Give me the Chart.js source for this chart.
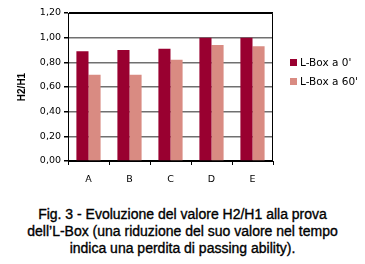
<!DOCTYPE html>
<html>
<head>
<meta charset="utf-8">
<script src="https://cdn.jsdelivr.net/npm/chart.js@4"></script>
<style>
  body { margin: 0; background: #fff; }
  #wrap { width: 365px; height: 264px; position: relative; }
  #holder { width: 365px; height: 200px; position: relative; }
  #caption {
    font-family: "Liberation Sans", Arial, sans-serif;
    font-size: 14px; line-height: 17px; text-align: center;
    color: #000; margin-top: 6px;
    -webkit-text-stroke: 0.35px #000;
  }
</style>
</head>
<body>
<div id="wrap">
  <div id="holder"><canvas id="chart"></canvas></div>
  <div id="caption">Fig. 3 - Evoluzione del valore H2/H1 alla prova<br>dell’L-Box (una riduzione del suo valore nel tempo<br>indica una perdita di passing ability).</div>
</div>
<script>
const categories = ["A", "B", "C", "D", "E"];
const box0 = [0.89, 0.90, 0.91, 1.00, 1.00];
const box60 = [0.70, 0.70, 0.82, 0.94, 0.93];
const seriesNames = ["L-Box a 0'", "L-Box a 60'"];
const yTicks = [0, 0.2, 0.4, 0.6, 0.8, 1.0, 1.2];

// bordo del riquadro e legenda a destra
const frame = {
  id: "frame",
  afterDraw(chart) {
    const { ctx, chartArea: a } = chart;
    ctx.save();
    ctx.strokeStyle = "#000";
    ctx.lineWidth = 1;
    ctx.beginPath();
    ctx.moveTo(a.left, a.top + 0.5);
    ctx.lineTo(a.right - 0.5, a.top + 0.5);
    ctx.lineTo(a.right - 0.5, a.bottom);
    ctx.stroke();

    chart.data.datasets.forEach((ds, i) => {
      const y = 63 + i * 19;
      ctx.fillStyle = ds.backgroundColor;
      ctx.fillRect(290, y - 4, 7, 7);
      ctx.fillStyle = "#000";
      ctx.font = "10.5px 'DejaVu Sans'";
      ctx.textBaseline = "middle";
      ctx.fillText(ds.label, 300, y);
    });
    ctx.restore();
  }
};

new Chart(document.getElementById("chart"), {
  type: "bar",
  data: {
    labels: categories,
    datasets: [
      { label: seriesNames[0], data: box0, backgroundColor: "#990030" },
      { label: seriesNames[1], data: box60, backgroundColor: "#d98b82" }
    ]
  },
  options: {
    responsive: true,
    maintainAspectRatio: false,
    animation: false,
    layout: { padding: { left: 10, right: 92, top: 13, bottom: 0 } },
    datasets: { bar: { categoryPercentage: 0.59, barPercentage: 1 } },
    plugins: { legend: { display: false }, tooltip: { enabled: false } },
    scales: {
      x: {
        afterFit(s) { s.height = 39; },
        grid: { offset: true, drawOnChartArea: false, tickLength: 4, tickColor: "#000" },
        border: { color: "#000" },
        ticks: { color: "#000", padding: 9, font: { family: "DejaVu Sans", size: 9.5 } }
      },
      y: {
        min: 0, max: 1.2,
        afterFit(s) { s.width = 58; },
        afterBuildTicks(s) { s.ticks = yTicks.map(v => ({ value: v })); },
        grid: {
          tickLength: 4,
          tickColor: "#000",
          lineWidth: 1.5,
          color: c => (c.tick && (c.tick.value === 0 || c.tick.value === 1.2)) ? "#000" : "#707070"
        },
        border: { color: "#000" },
        ticks: {
          color: "#000", padding: 3,
          font: { family: "DejaVu Sans", size: 9.5 },
          callback: v => v.toFixed(2).replace(".", ",")
        },
        title: {
          display: true, text: "H2/H1", color: "#000",
          font: { family: "Liberation Sans", size: 10, weight: "bold" },
          padding: { top: 6, bottom: 13 }
        }
      }
    }
  },
  plugins: [frame]
});
</script>
</body>
</html>
